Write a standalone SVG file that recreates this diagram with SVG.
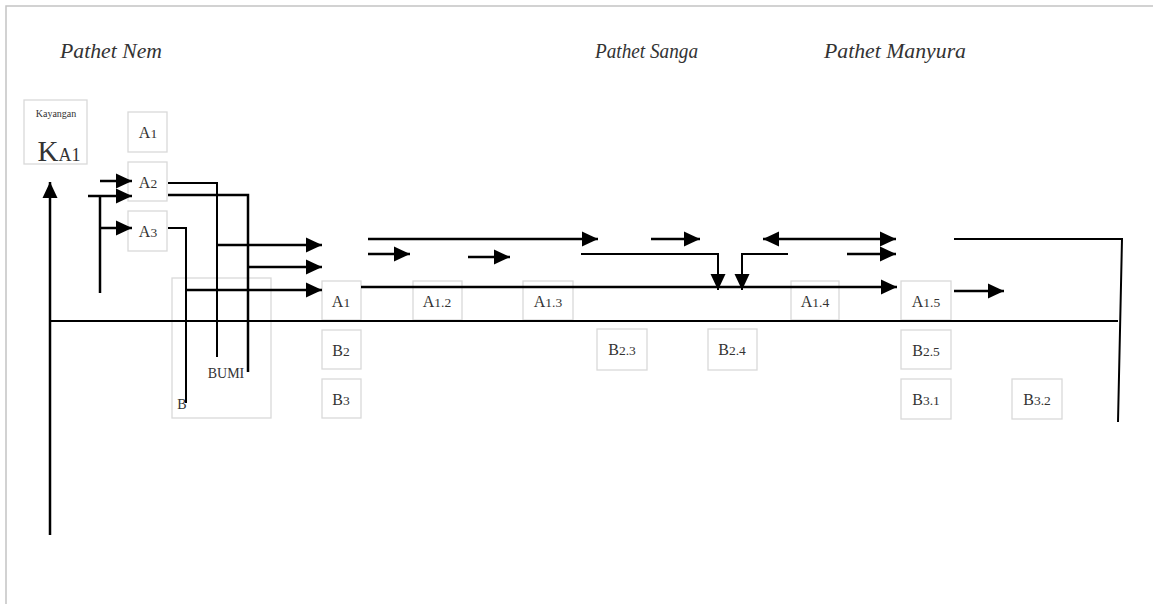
<svg xmlns="http://www.w3.org/2000/svg" width="1153" height="604" viewBox="0 0 1153 604">
<style>
.box{fill:#fff;stroke:#d9d9d9;stroke-width:1.3}
.lbl{font-family:"Liberation Serif",serif;fill:#333;font-size:16px;text-anchor:middle}
.sub{font-size:13.5px}
.title{font-family:"Liberation Serif",serif;font-style:italic;fill:#333;font-size:22px}
.c{fill:none;stroke:#000;stroke-width:2.5}
.frame{stroke:#c4c4c4;stroke-width:1.5;fill:none}
</style>
<defs>
<marker id="ah" markerWidth="17" markerHeight="16" refX="16" refY="8" orient="auto-start-reverse" markerUnits="userSpaceOnUse"><path d="M0,0.5 L16,8 L0,15.5 z" fill="#000"/></marker>
</defs>
<rect width="1153" height="604" fill="#fff"/>
<path class="frame" d="M6,604 V6 H1153"/>
<g id="titles">
<text class="title" x="60" y="58" textLength="102" lengthAdjust="spacingAndGlyphs">Pathet Nem</text>
<text class="title" x="595" y="58" textLength="103" lengthAdjust="spacingAndGlyphs">Pathet Sanga</text>
<text class="title" x="824" y="58" textLength="142" lengthAdjust="spacingAndGlyphs">Pathet Manyura</text>
</g>
<g id="kayangan">
<rect class="box" x="24" y="100" width="63" height="64"/>
<text class="lbl" x="56" y="117" style="font-size:10px">Kayangan</text>
<text class="lbl" x="59" y="161" style="font-size:29px">K<tspan style="font-size:18px">A1</tspan></text>
</g>
<g id="bumi">
<rect class="box" x="172" y="278" width="99" height="140"/>
<text class="lbl" x="226" y="378" style="font-size:14px">BUMI</text>
<text class="lbl" x="182" y="409" style="font-size:14px">B</text>
</g>
<g id="n-a1-top"><rect class="box" x="128" y="112" width="39" height="40"/><text class="lbl" x="148" y="138">A<tspan class="sub">1</tspan></text></g>
<g id="n-a2"><rect class="box" x="128" y="162" width="39" height="39"/><text class="lbl" x="148" y="188">A<tspan class="sub">2</tspan></text></g>
<g id="n-a3"><rect class="box" x="128" y="211" width="39" height="40"/><text class="lbl" x="148" y="237">A<tspan class="sub">3</tspan></text></g>
<g id="n-a1"><rect class="box" x="322" y="281" width="39" height="39"/><text class="lbl" x="341" y="307">A<tspan class="sub">1</tspan></text></g>
<g id="n-b2"><rect class="box" x="322" y="330" width="39" height="39"/><text class="lbl" x="341" y="356">B<tspan class="sub">2</tspan></text></g>
<g id="n-b3"><rect class="box" x="322" y="379" width="39" height="39"/><text class="lbl" x="341" y="405">B<tspan class="sub">3</tspan></text></g>
<g id="n-a12"><rect class="box" x="413" y="281" width="49" height="39"/><text class="lbl" x="437" y="307">A<tspan class="sub">1.2</tspan></text></g>
<g id="n-a13"><rect class="box" x="523" y="281" width="50" height="39"/><text class="lbl" x="548" y="307">A<tspan class="sub">1.3</tspan></text></g>
<g id="n-a14"><rect class="box" x="791" y="281" width="48" height="39"/><text class="lbl" x="815" y="307">A<tspan class="sub">1.4</tspan></text></g>
<g id="n-a15"><rect class="box" x="901" y="281" width="50" height="39"/><text class="lbl" x="926" y="307">A<tspan class="sub">1.5</tspan></text></g>
<g id="n-b23"><rect class="box" x="597" y="329" width="50" height="41"/><text class="lbl" x="622" y="355">B<tspan class="sub">2.3</tspan></text></g>
<g id="n-b24"><rect class="box" x="708" y="329" width="49" height="41"/><text class="lbl" x="732" y="355">B<tspan class="sub">2.4</tspan></text></g>
<g id="n-b25"><rect class="box" x="901" y="330" width="50" height="39"/><text class="lbl" x="926" y="356">B<tspan class="sub">2.5</tspan></text></g>
<g id="n-b31"><rect class="box" x="901" y="379" width="50" height="40"/><text class="lbl" x="926" y="405">B<tspan class="sub">3.1</tspan></text></g>
<g id="n-b32"><rect class="box" x="1012" y="379" width="50" height="40"/><text class="lbl" x="1037" y="405">B<tspan class="sub">3.2</tspan></text></g>
<g id="connectors">
<path class="c" d="M50,321 H1118" style="stroke-width:2"/>
<path class="c" d="M50,535 V182" marker-end="url(#ah)"/>
<path class="c" d="M100,181 H132" marker-end="url(#ah)"/>
<path class="c" d="M88,196 H132" marker-end="url(#ah)"/>
<path class="c" d="M100,196 V293"/>
<path class="c" d="M100,228 H132" marker-end="url(#ah)"/>
<path class="c" d="M168,183 H217 V357" style="stroke-width:2"/>
<path class="c" d="M168,195 H248 V372"/>
<path class="c" d="M168,228 H186 V403" style="stroke-width:2"/>
<path class="c" d="M217,245 H322" marker-end="url(#ah)"/>
<path class="c" d="M248,267 H322" marker-end="url(#ah)"/>
<path class="c" d="M186,290 H322" marker-end="url(#ah)"/>
<path class="c" d="M368,239 H598" marker-end="url(#ah)"/>
<path class="c" d="M368,254 H410" marker-end="url(#ah)"/>
<path class="c" d="M468,257 H510" marker-end="url(#ah)"/>
<path class="c" d="M581,254 H718 V290" style="stroke-width:2" marker-end="url(#ah)"/>
<path class="c" d="M361,287 H897" marker-end="url(#ah)"/>
<path class="c" d="M651,239 H700" marker-end="url(#ah)"/>
<path class="c" d="M788,254 H742 V290" style="stroke-width:2" marker-end="url(#ah)"/>
<path class="c" d="M763,239 H896" marker-start="url(#ah)" marker-end="url(#ah)"/>
<path class="c" d="M847,254 H896" marker-end="url(#ah)"/>
<path class="c" d="M954,239 H1122 L1118,422" style="stroke-width:2"/>
<path class="c" d="M954,291 H1004" marker-end="url(#ah)"/>
</g>
</svg>
